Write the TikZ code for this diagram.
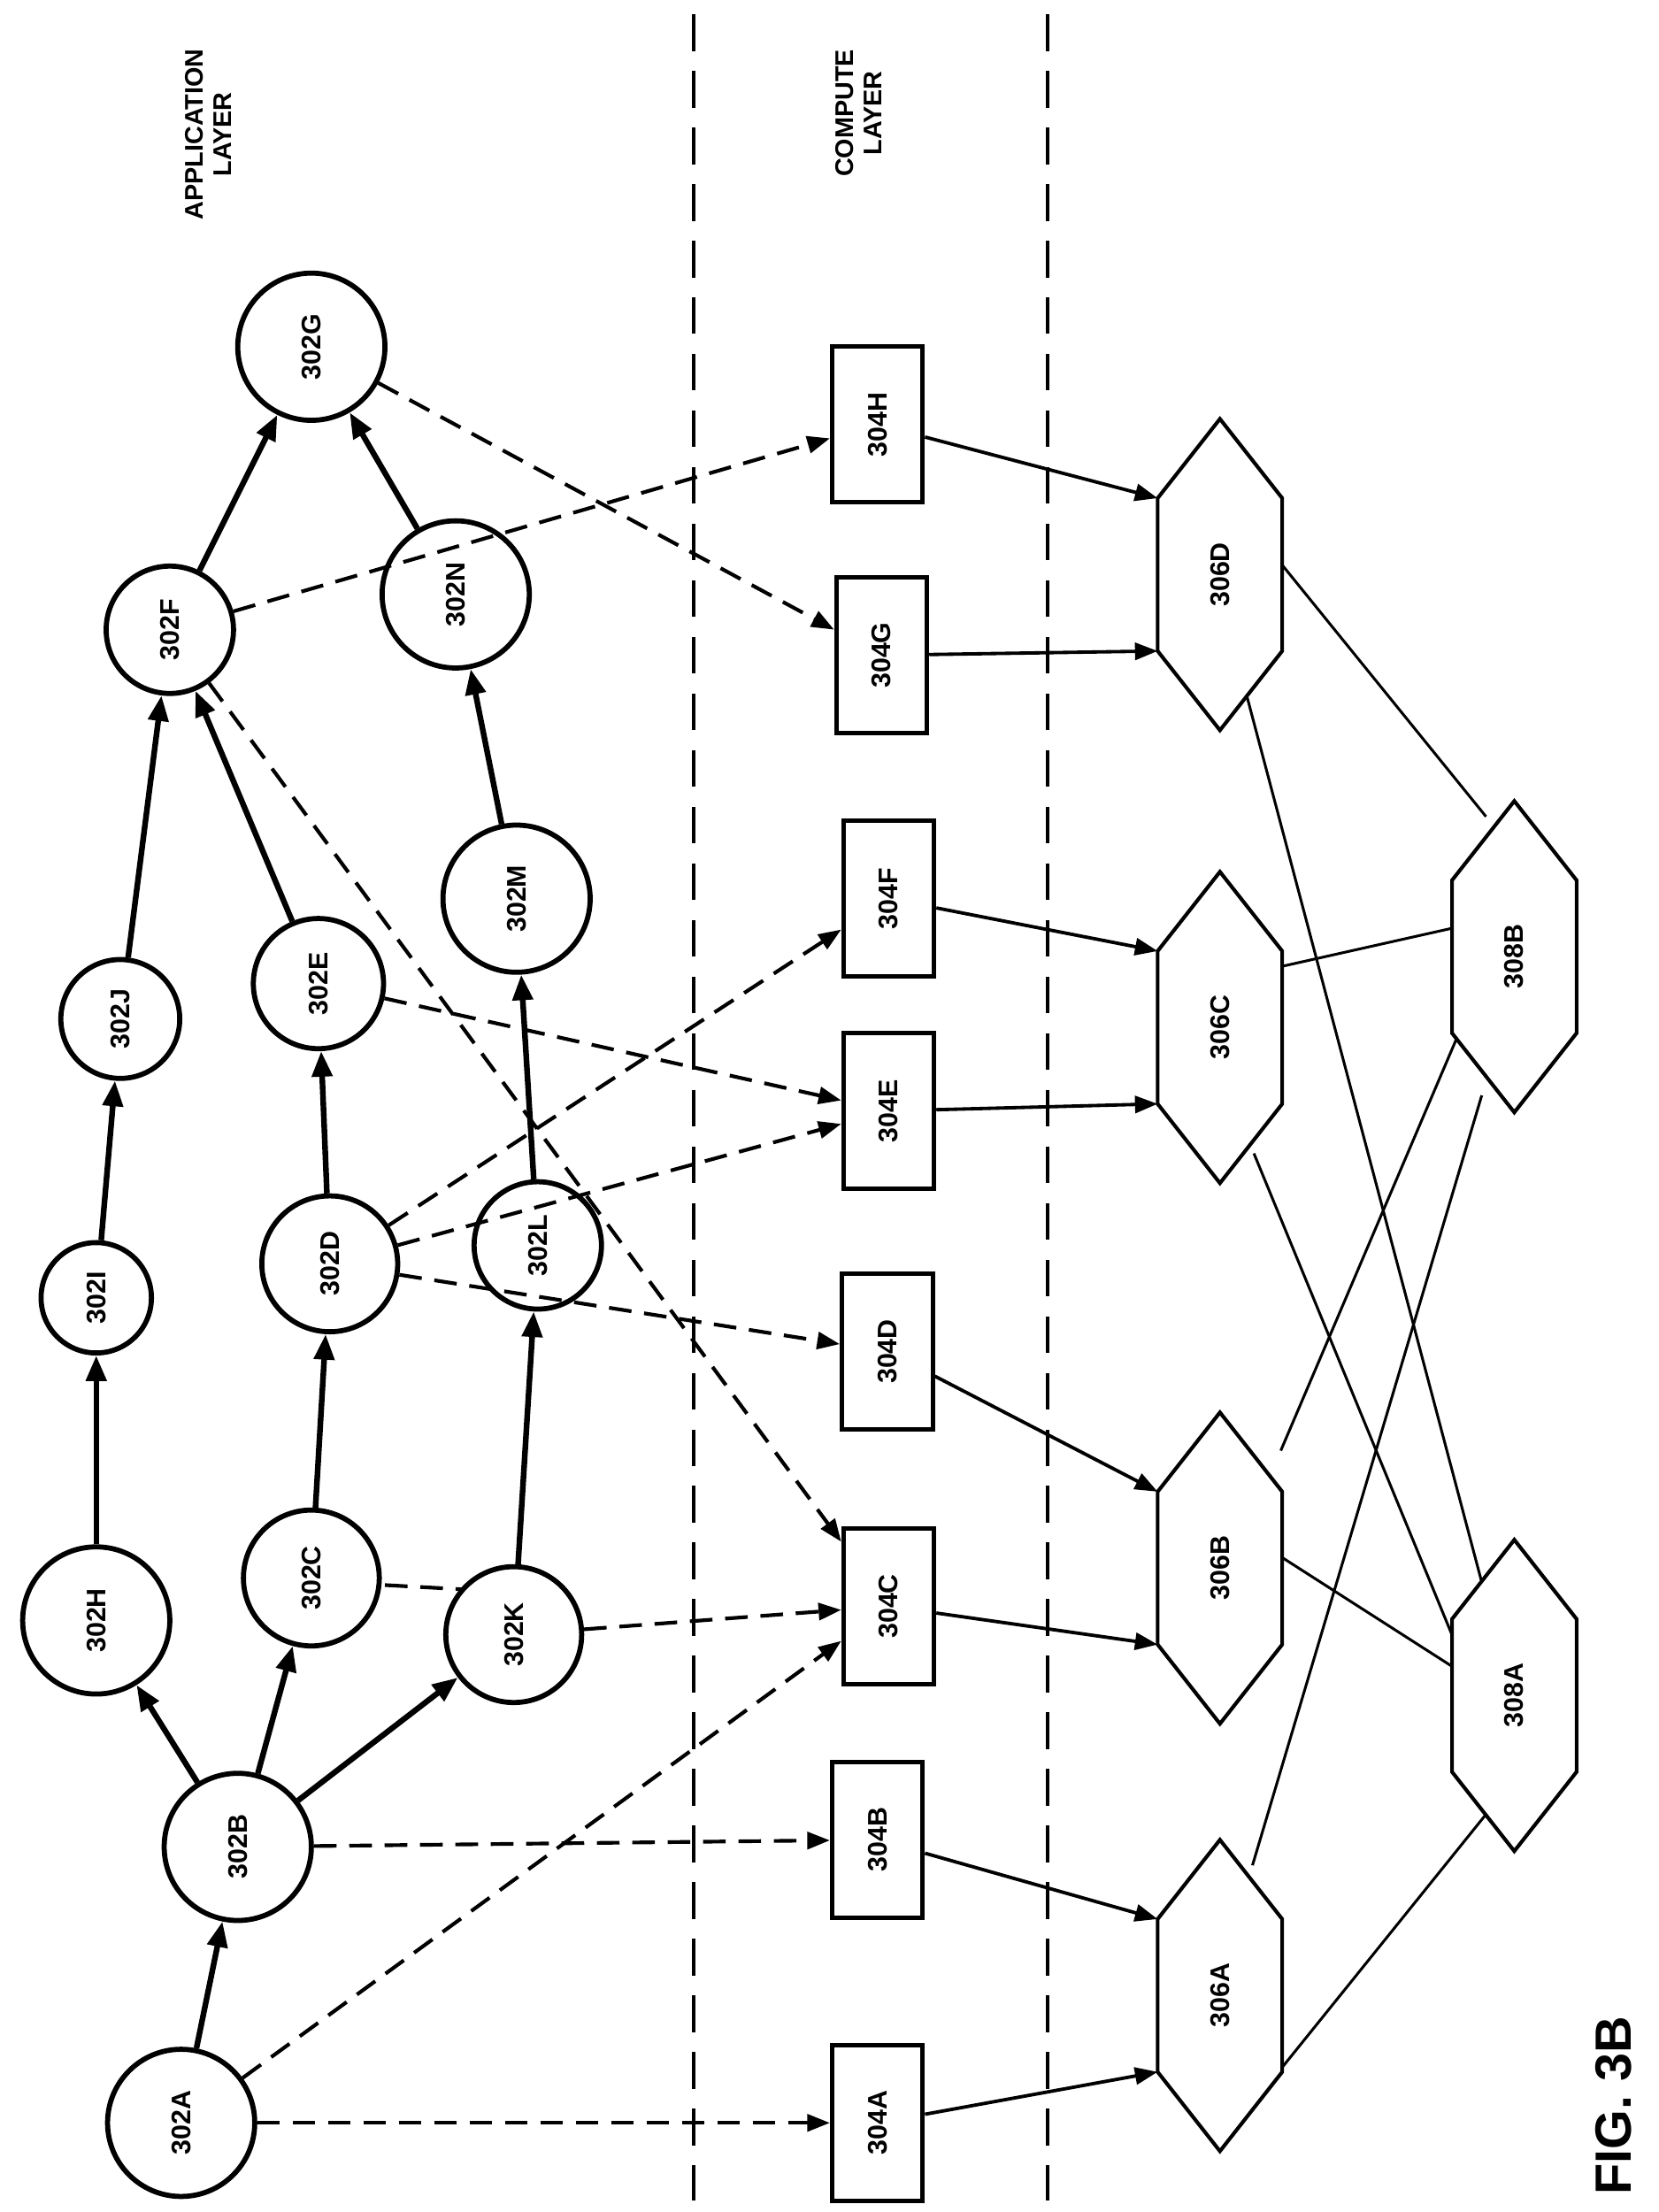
\documentclass[tikz,border=0pt]{standalone}
\usepackage{fontspec}
\setmainfont{Liberation Sans}
\usetikzlibrary{arrows.meta}
\begin{document}
\begin{tikzpicture}[x=1pt,y=-1pt,
 lbl/.style={font=\fontsize{19}{21}\selectfont\bfseries,rotate=90},
 circ/.style={circle,draw,line width=3.6pt,fill=white,inner sep=0pt,lbl},
 box/.style={draw,line width=3.2pt,fill=white,minimum width=64pt,minimum height=110pt,inner sep=0pt},
 thick arr/.style={line width=4pt,-{Triangle[length=18pt,width=14pt]}},
 dash arr/.style={line width=2.6pt,dash pattern=on 16pt off 9pt,-{Triangle[length=16pt,width=12pt]}},
 thin arr/.style={line width=2.4pt,-{Triangle[length=16pt,width=12pt]}},
 hl/.style={line width=1.9pt}]
\useasboundingbox (0,0) rectangle (1172,1563);
\fill[white] (0,0) rectangle (1172,1563);
\draw[line width=2.4pt,dash pattern=on 26pt off 14pt] (490,10) -- (490,1555);
\draw[line width=2.4pt,dash pattern=on 26pt off 14pt] (740,10) -- (740,1555);
\node[lbl,font=\fontsize{18}{20}\selectfont\bfseries,align=center] (al) at (147,95) {APPLICATION\\LAYER};
\node[lbl,font=\fontsize{18}{20}\selectfont\bfseries,align=center] (cl) at (607,80) {COMPUTE\\LAYER};
\node[rotate=90,font=\fontsize{36}{40}\selectfont\bfseries] (fig) at (1140,1488) {FIG. 3B};
\newcommand{\hexa}[3]{%
 \draw[line width=2.6pt,fill=white] (#2-44,#3-54) coordinate (#1ul) -- (#2,#3-110) coordinate (#1t) -- (#2+44,#3-54) coordinate (#1ur) -- (#2+44,#3+54) coordinate (#1lr) -- (#2,#3+110) coordinate (#1b) -- (#2-44,#3+54) coordinate (#1ll) -- cycle;
 \node[lbl] (#1) at (#2,#3) {#1};}
\coordinate (a1) at (905,398); \coordinate (b1) at (1050,577);
\coordinate (a2) at (880,488); \coordinate (b2) at (1047,1118);
\coordinate (a3) at (905,683); \coordinate (b3) at (1030,655);
\coordinate (a4) at (886,815); \coordinate (b4) at (1030,1165);
\coordinate (a5) at (905,1025); \coordinate (b5) at (1030,732);
\coordinate (a6) at (902,1098); \coordinate (b6) at (1030,1180);
\coordinate (a7) at (885,1318); \coordinate (b7) at (1047,774);
\coordinate (a8) at (905,1462); \coordinate (b8) at (1050,1282);
\foreach \i in {1,...,8}{\draw[hl] (a\i) -- (b\i);}
\hexa{306A}{862}{1410}
\hexa{306B}{862}{1108}
\hexa{306C}{862}{726}
\hexa{306D}{862}{406}
\hexa{308A}{1070}{1198}
\hexa{308B}{1070}{676}
\coordinate (ce) at (272,1120); \coordinate (kw) at (363,1125);
\draw[line width=2.6pt,dash pattern=on 16pt off 9pt] (ce) -- (kw);
\node[circ,minimum size=104pt] (302A) at (128,1500) {302A};
\node[circ,minimum size=104pt] (302B) at (168,1305) {302B};
\node[circ,minimum size=104pt] (302H) at (68,1145) {302H};
\node[circ,minimum size=96pt] (302C) at (220,1115) {302C};
\node[circ,minimum size=96pt] (302K) at (363,1155) {302K};
\node[circ,minimum size=78pt] (302I) at (68,917) {302I};
\node[circ,minimum size=96pt] (302D) at (233,893) {302D};
\node[circ,minimum size=90pt] (302L) at (380,880) {302L};
\node[circ,minimum size=84pt] (302J) at (85,720) {302J};
\node[circ,minimum size=92pt] (302E) at (225,695) {302E};
\node[circ,minimum size=104pt] (302M) at (365,635) {302M};
\node[circ,minimum size=90pt] (302F) at (120,445) {302F};
\node[circ,minimum size=104pt] (302N) at (322,420) {302N};
\node[circ,minimum size=104pt] (302G) at (220,245) {302G};
\node[box] (304A) at (620,1500) {}; \node[lbl] at (304A) {304A};
\node[box] (304B) at (620,1300) {}; \node[lbl] at (304B) {304B};
\node[box] (304C) at (628,1135) {}; \node[lbl] at (304C) {304C};
\node[box] (304D) at (627,955) {}; \node[lbl] at (304D) {304D};
\node[box] (304E) at (628,785) {}; \node[lbl] at (304E) {304E};
\node[box] (304F) at (628,635) {}; \node[lbl] at (304F) {304F};
\node[box] (304G) at (623,463) {}; \node[lbl] at (304G) {304G};
\node[box] (304H) at (620,300) {}; \node[lbl] at (304H) {304H};
\foreach \a/\b in {302A/302B,302B/302H,302B/302C,302B/302K,302H/302I,302I/302J,302J/302F,302C/302D,302D/302E,302E/302F,302K/302L,302L/302M,302M/302N,302N/302G,302F/302G}
 \draw[thick arr] (\a) -- (\b);
\foreach \a/\b in {302A/304A,302A/304C,302B/304B,302F/304C,302F/304H,302D/304F,302D/304E,302D/304D,302E/304E,302G/304G}
 \draw[dash arr] (\a) -- (\b);
\draw[dash arr] (302K) -- (304C);
\draw[thin arr] (304A) -- (306All);
\draw[thin arr] (304B) -- (306Aul);
\draw[thin arr] (304C) -- (306Bll);
\draw[thin arr] (304D) -- (306Bul);
\draw[thin arr] (304E) -- (306Cll);
\draw[thin arr] (304F) -- (306Cul);
\draw[thin arr] (304G) -- (306Dll);
\draw[thin arr] (304H) -- (306Dul);
\end{tikzpicture}
\end{document}
